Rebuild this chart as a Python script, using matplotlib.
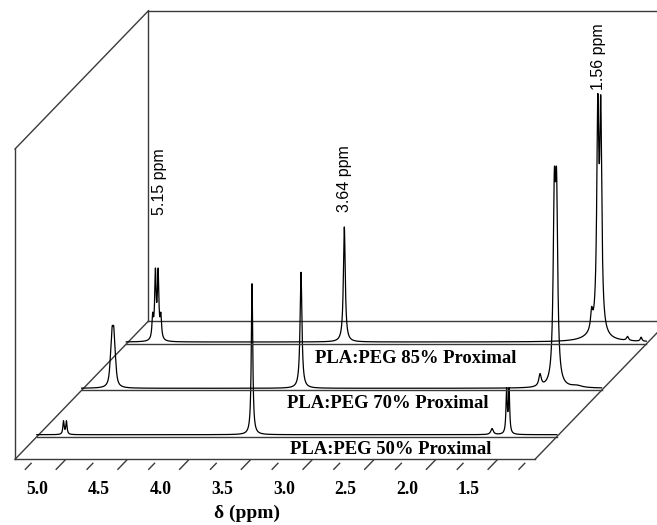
import numpy as np
import matplotlib
matplotlib.use("Agg")
import matplotlib.pyplot as plt
from matplotlib.transforms import Affine2D

# samples, front to back
samples = ["PLA:PEG 50% Proximal", "PLA:PEG 70% Proximal", "PLA:PEG 85% Proximal"]

# peaks: centre (ppm), height (a.u.), half width (ppm), no. of lines, J (ppm)
shift_50 = [4.934, 3.418, 1.473, 1.345]
height_50 = [14, 151, 6, 47]
hw_50 = [0.006, 0.007, 0.012, 0.006]
lines_50 = [2, 1, 1, 2]
j_50 = [0.024, 0.0, 0.0, 0.02]

shift_70 = [4.908, 3.384, 1.447, 1.322, 1.15]
height_70 = [63, 116, 12, 222, 2]
hw_70 = [0.01, 0.009, 0.012, 0.011, 0.05]
lines_70 = [4, 1, 1, 2, 1]
j_70 = [0.013, 0.0, 0.0, 0.018, 0.0]

shift_85 = [4.915, 3.395, 1.391, 1.329, 1.36, 1.10, 0.99]
height_85 = [74, 115, 18, 242, 6, 4, 4]
hw_85 = [0.007, 0.009, 0.01, 0.01, 0.1, 0.01, 0.008]
lines_85 = [4, 1, 1, 2, 1, 1, 1]
j_85 = [0.022, 0.0, 0.0, 0.024, 0.0, 0.0, 0.0]

peak_labels = ["5.15 ppm", "3.64 ppm", "1.56 ppm"]
peak_label_x = [4.893, 3.390, 1.332]      # where they sit on the 85% trace
peak_label_z = [129, 132, 254]

tick_vals = np.arange(5.0, 0.99, -0.25)
tick_labels = ["5.0", "4.5", "4.0", "3.5", "3.0", "2.5", "2.0", "1.5"]

# ---- layout of the pseudo 3d box
PPM_L, PPM_R = 5.162, 0.948      # floor ends
DEPTH = 138.3                     # floor depth
ZTOP = 310.3                      # wall height
KX = 0.965 / 123.4                # ppm shift per unit of depth
depths = [22.6, 69.0, 115.3]
name_pos = [2.292, 2.683, 2.814]
name_dz = [-17.3, -17.8, -19.3]
BOX = "#3a3a3a"


def multiplet(x, c, h, g, n, j):
    w = np.array([1.0])
    for _ in range(n - 1):
        w = np.convolve(w, [1.0, 1.0])
    y = np.zeros_like(x)
    for k, wk in enumerate(w):
        pos = c + (k - (n - 1) / 2.0) * j
        y += wk / (1 + ((x - pos) / g) ** 2)
    return h * y / y.max()


def spectrum(x, shifts, heights, hws, nl, js):
    y = np.zeros_like(x)
    for c, h, g, n, j in zip(shifts, heights, hws, nl, js):
        y += multiplet(x, c, h, g, n, j)
    return y


def at(d):
    # move something back into the box by depth d
    return Affine2D().translate(-d * KX, d) + ax.transData


fig = plt.figure(figsize=(6.57, 5.25), dpi=100)
ax = fig.add_axes([0, 0, 1, 1])
ax.set_xlim(5.0 + 35 / 123.4, 5.0 - 622 / 123.4)
ax.set_ylim(459.3 - 525, 459.3)
ax.axis("off")

# box
box_lw = 1.0
ax.plot([PPM_L, PPM_R], [0, 0], color=BOX, lw=box_lw)
ax.plot([PPM_L, PPM_L], [0, ZTOP], color=BOX, lw=box_lw)
ax.plot([PPM_L, PPM_L - DEPTH * KX], [0, DEPTH], color=BOX, lw=box_lw)
ax.plot([PPM_R, PPM_R - DEPTH * KX], [0, DEPTH], color=BOX, lw=box_lw)
ax.plot([PPM_L, PPM_L - DEPTH * KX], [ZTOP, ZTOP + DEPTH], color=BOX, lw=box_lw)
ax.plot([PPM_L, PPM_L], [0, ZTOP], color=BOX, lw=box_lw, transform=at(DEPTH))
ax.plot([PPM_L, PPM_R], [0, 0], color=BOX, lw=box_lw, transform=at(DEPTH))
ax.plot([PPM_L, PPM_R], [ZTOP, ZTOP], color=BOX, lw=box_lw, transform=at(DEPTH))

# ticks on the front edge
for v in tick_vals:
    major = abs(v * 2 - round(v * 2)) < 1e-6
    d0 = -4 if major else -1
    ax.plot([v - d0 * KX, v + 10 * KX], [d0, -10], color=BOX, lw=box_lw)
for v, lab in zip(tick_vals[::2], tick_labels):
    ax.text(v - 2 / 123.4, -34.7, lab, ha="center", va="baseline", fontsize=12.7,
            family="Liberation Serif", fontweight="bold")
ax.text(5.0 - 212 / 123.4, -58.5, "δ (ppm)", ha="center", va="baseline",
        fontsize=14, family="Liberation Serif", fontweight="bold")

# spectra
x = np.linspace(PPM_L, PPM_R, 8000)
data = [
    (shift_50, height_50, hw_50, lines_50, j_50),
    (shift_70, height_70, hw_70, lines_70, j_70),
    (shift_85, height_85, hw_85, lines_85, j_85),
]
for name, d, pk, npos, ndz in zip(samples, depths, data, name_pos, name_dz):
    ax.plot([PPM_L, PPM_R], [0, 0], color=BOX, lw=box_lw, transform=at(d))
    y = spectrum(x, *pk)
    ax.plot(x, y + 2.0, color="black", lw=0.9, transform=at(d))
    ax.text(npos, ndz, name, ha="center", va="baseline", fontsize=13.4,
            family="Liberation Serif", fontweight="bold", transform=at(d))

for lab, px, pz in zip(peak_labels, peak_label_x, peak_label_z):
    ax.text(px, pz, lab, rotation=90, ha="center", va="bottom", fontsize=11.5,
            family="Liberation Sans", transform=at(depths[2]))

fig.savefig("out.png", dpi=100)
